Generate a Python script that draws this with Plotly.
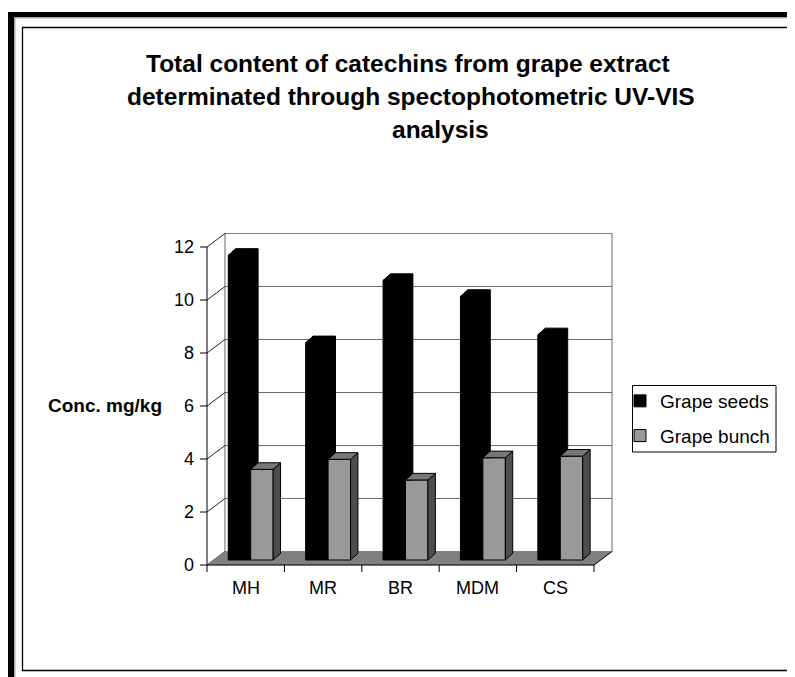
import plotly.graph_objects as go

# ---------------- data ----------------
categories = ["MH", "MR", "BR", "MDM", "CS"]
grape_seeds = [11.5, 8.2, 10.55, 9.95, 8.5]
grape_bunch = [3.42, 3.8, 3.02, 3.86, 3.92]
series_names = ["Grape seeds", "Grape bunch"]
y_ticks = [0, 2, 4, 6, 8, 10, 12]
title_lines = ["Total content of catechins from grape extract",
               "determinated through spectophotometric UV-VIS",
               "analysis"]
y_title = "Conc. mg/kg"

# ---------------- geometry (screen-pixel helpers) ----------------
W, H = 795, 677
OFF = 8                     # page body margin
PX_X, PX_Y = 77.4, 26.5     # pixels per category / per unit
X0, Y0 = 207, 565           # screen position of the front-axis origin
FONT = "Arial, Liberation Sans, sans-serif"


def dxp(px):
    return px / PX_X


def dyp(px):
    return px / PX_Y


def X(px):
    return (px - X0) / PX_X


def Y(py):
    return (Y0 - py) / PX_Y


def px_x(p):
    return (p - OFF) / W


def px_y(p):
    return 1 - (p - OFF) / H


n = len(categories)
ymax = y_ticks[-1]
wall_dx, wall_dy = dxp(18), dyp(13.5)     # back wall offset
bar_sx, bar_sy = dxp(5), dyp(5)           # bar plane offset
dep_x, dep_y = dxp(7.4), dyp(6.6)         # bar depth
bar_w = 0.29

shapes = []
# back wall
shapes.append(dict(type="rect", xref="x", yref="y", layer="below",
                   x0=wall_dx, x1=n + wall_dx, y0=wall_dy, y1=ymax + wall_dy,
                   fillcolor="white", line=dict(color="#808080", width=1.2)))
# back-wall gridlines and side-wall lines
for v in y_ticks[1:-1]:
    shapes.append(dict(type="line", xref="x", yref="y", layer="below",
                       x0=wall_dx, x1=n + wall_dx, y0=v + wall_dy, y1=v + wall_dy,
                       line=dict(color="#6a6a6a", width=1.2)))
for v in y_ticks:
    shapes.append(dict(type="line", xref="x", yref="y", layer="below",
                       x0=0, x1=wall_dx, y0=v, y1=v + wall_dy,
                       line=dict(color="#222222", width=1)))
# floor
shapes.append(dict(type="path", xref="x", yref="y", layer="below",
                   path=f"M0,0 L{n},0 L{n + wall_dx},{wall_dy} L{wall_dx},{wall_dy} Z",
                   fillcolor="#808080", line=dict(color="#808080", width=0.5)))
shapes.append(dict(type="line", xref="x", yref="y", layer="below",
                   x0=n, x1=n + wall_dx, y0=0, y1=wall_dy,
                   line=dict(color="black", width=1)))
# front axes
shapes.append(dict(type="line", xref="x", yref="y", x0=0, x1=0, y0=0, y1=ymax,
                   line=dict(color="black", width=1)))
shapes.append(dict(type="line", xref="x", yref="y", x0=0, x1=n, y0=0, y1=0,
                   line=dict(color="black", width=1)))
for v in y_ticks:
    shapes.append(dict(type="line", xref="x", yref="y", x0=-dxp(7), x1=0, y0=v, y1=v,
                       line=dict(color="black", width=1)))
for i in range(n + 1):
    shapes.append(dict(type="line", xref="x", yref="y", x0=i, x1=i, y0=0, y1=-dyp(7),
                       line=dict(color="black", width=1)))

# page frame
shapes += [
    dict(type="rect", xref="paper", yref="paper", x0=px_x(8), x1=px_x(14), y0=px_y(12), y1=px_y(H + 20),
         fillcolor="black", line=dict(width=0)),
    dict(type="rect", xref="paper", yref="paper", x0=px_x(8), x1=px_x(W + 20), y0=px_y(12), y1=px_y(17),
         fillcolor="black", line=dict(width=0)),
    dict(type="rect", xref="paper", yref="paper", x0=px_x(14), x1=px_x(15.5), y0=px_y(17), y1=px_y(H + 20),
         fillcolor="#aaaaaa", line=dict(width=0)),
    dict(type="rect", xref="paper", yref="paper", x0=px_x(14), x1=px_x(W + 20), y0=px_y(17), y1=px_y(18.5),
         fillcolor="#aaaaaa", line=dict(width=0)),
    dict(type="rect", xref="paper", yref="paper", x0=px_x(22.5), x1=px_x(790), y0=px_y(27.5), y1=px_y(670.5),
         fillcolor="rgba(0,0,0,0)", line=dict(color="black", width=1.3)),
    # legend box
    dict(type="rect", xref="paper", yref="paper", x0=px_x(632.5), x1=px_x(776), y0=px_y(385.5), y1=px_y(452),
         fillcolor="white", line=dict(color="black", width=1), layer="below"),
]

fig = go.Figure()

# front faces of bars
centers = [i + 0.5 + bar_sx for i in range(n)]
fig.add_trace(go.Bar(x=[c - bar_w / 2 for c in centers], y=grape_seeds, base=bar_sy, width=bar_w,
                     name=series_names[0], legendgroup="a",
                     marker=dict(color="black", line=dict(color="black", width=1)),
                     hoverinfo="skip"))
fig.add_trace(go.Bar(x=[c + bar_w / 2 for c in centers], y=grape_bunch, base=bar_sy, width=bar_w,
                     name=series_names[1], legendgroup="b",
                     marker=dict(color="#999999", line=dict(color="black", width=1)),
                     hoverinfo="skip"))

# 3-D top / side faces
bx, by, sx, sy, tx, ty = [], [], [], [], [], []
for i in range(n):
    c = centers[i]
    xl, xm, xr = c - bar_w, c, c + bar_w
    yb = bar_sy + grape_seeds[i]
    yg = bar_sy + grape_bunch[i]
    bx += [xl, xl + dep_x, xm + dep_x, xm + dep_x, xm, xm, xl, None]
    by += [yb, yb + dep_y, yb + dep_y, yg, yg, yb, yb, None]
    sx += [xr, xr, xr + dep_x, xr + dep_x, xr, None]
    sy += [bar_sy, yg, yg + dep_y, bar_sy + dep_y, bar_sy, None]
    tx += [xm, xr, xr + dep_x, xm + dep_x, xm, None]
    ty += [yg, yg, yg + dep_y, yg + dep_y, yg, None]

fig.add_trace(go.Scatter(x=bx, y=by, mode="lines", fill="toself", fillcolor="black",
                         line=dict(color="black", width=1), showlegend=False, hoverinfo="skip"))
fig.add_trace(go.Scatter(x=sx, y=sy, mode="lines", fill="toself", fillcolor="#4d4d4d",
                         line=dict(color="black", width=1), showlegend=False, hoverinfo="skip"))
fig.add_trace(go.Scatter(x=tx, y=ty, mode="lines", fill="toself", fillcolor="#777777",
                         line=dict(color="black", width=1), showlegend=False, hoverinfo="skip"))

annotations = []
for v in y_ticks:
    annotations.append(dict(x=X(196), y=v, xref="x", yref="y", text=str(v), showarrow=False,
                            xanchor="right", yanchor="middle", font=dict(size=18, family=FONT, color="black")))
for i, cat in enumerate(categories):
    annotations.append(dict(x=i + 0.5, y=Y(588), xref="x", yref="y", text=cat, showarrow=False,
                            xanchor="center", yanchor="middle", font=dict(size=18, family=FONT, color="black")))
annotations.append(dict(x=X(104.5), y=Y(405), xref="x", yref="y", text="<b>" + y_title + "</b>",
                        showarrow=False, xanchor="center", yanchor="middle",
                        font=dict(size=19, family=FONT, color="black")))
# title, one line per annotation
title_centers = [(407.5, 63), (411, 96.5), (440, 129.5)]
for line, (cx, cy) in zip(title_lines, title_centers):
    annotations.append(dict(x=px_x(cx), y=px_y(cy), xref="paper", yref="paper", text="<b>" + line + "</b>",
                            showarrow=False, xanchor="center", yanchor="middle",
                            font=dict(size=24.5, family=FONT, color="black")))

fig.update_layout(
    width=W, height=H,
    margin=dict(l=0, r=0, t=0, b=0, pad=0),
    paper_bgcolor="white", plot_bgcolor="white",
    barmode="overlay",
    xaxis=dict(range=[X(OFF), X(OFF + W)], visible=False, fixedrange=True),
    yaxis=dict(range=[Y(OFF + H), Y(OFF)], visible=False, fixedrange=True),
    shapes=shapes,
    annotations=annotations,
    showlegend=True,
    legend=dict(x=px_x(620), y=px_y(382), xanchor="left", yanchor="top",
                borderwidth=0, bgcolor="rgba(0,0,0,0)",
                font=dict(size=19, family=FONT, color="black"), tracegroupgap=7,
                traceorder="grouped"),
)

fig.write_html("out.html")
